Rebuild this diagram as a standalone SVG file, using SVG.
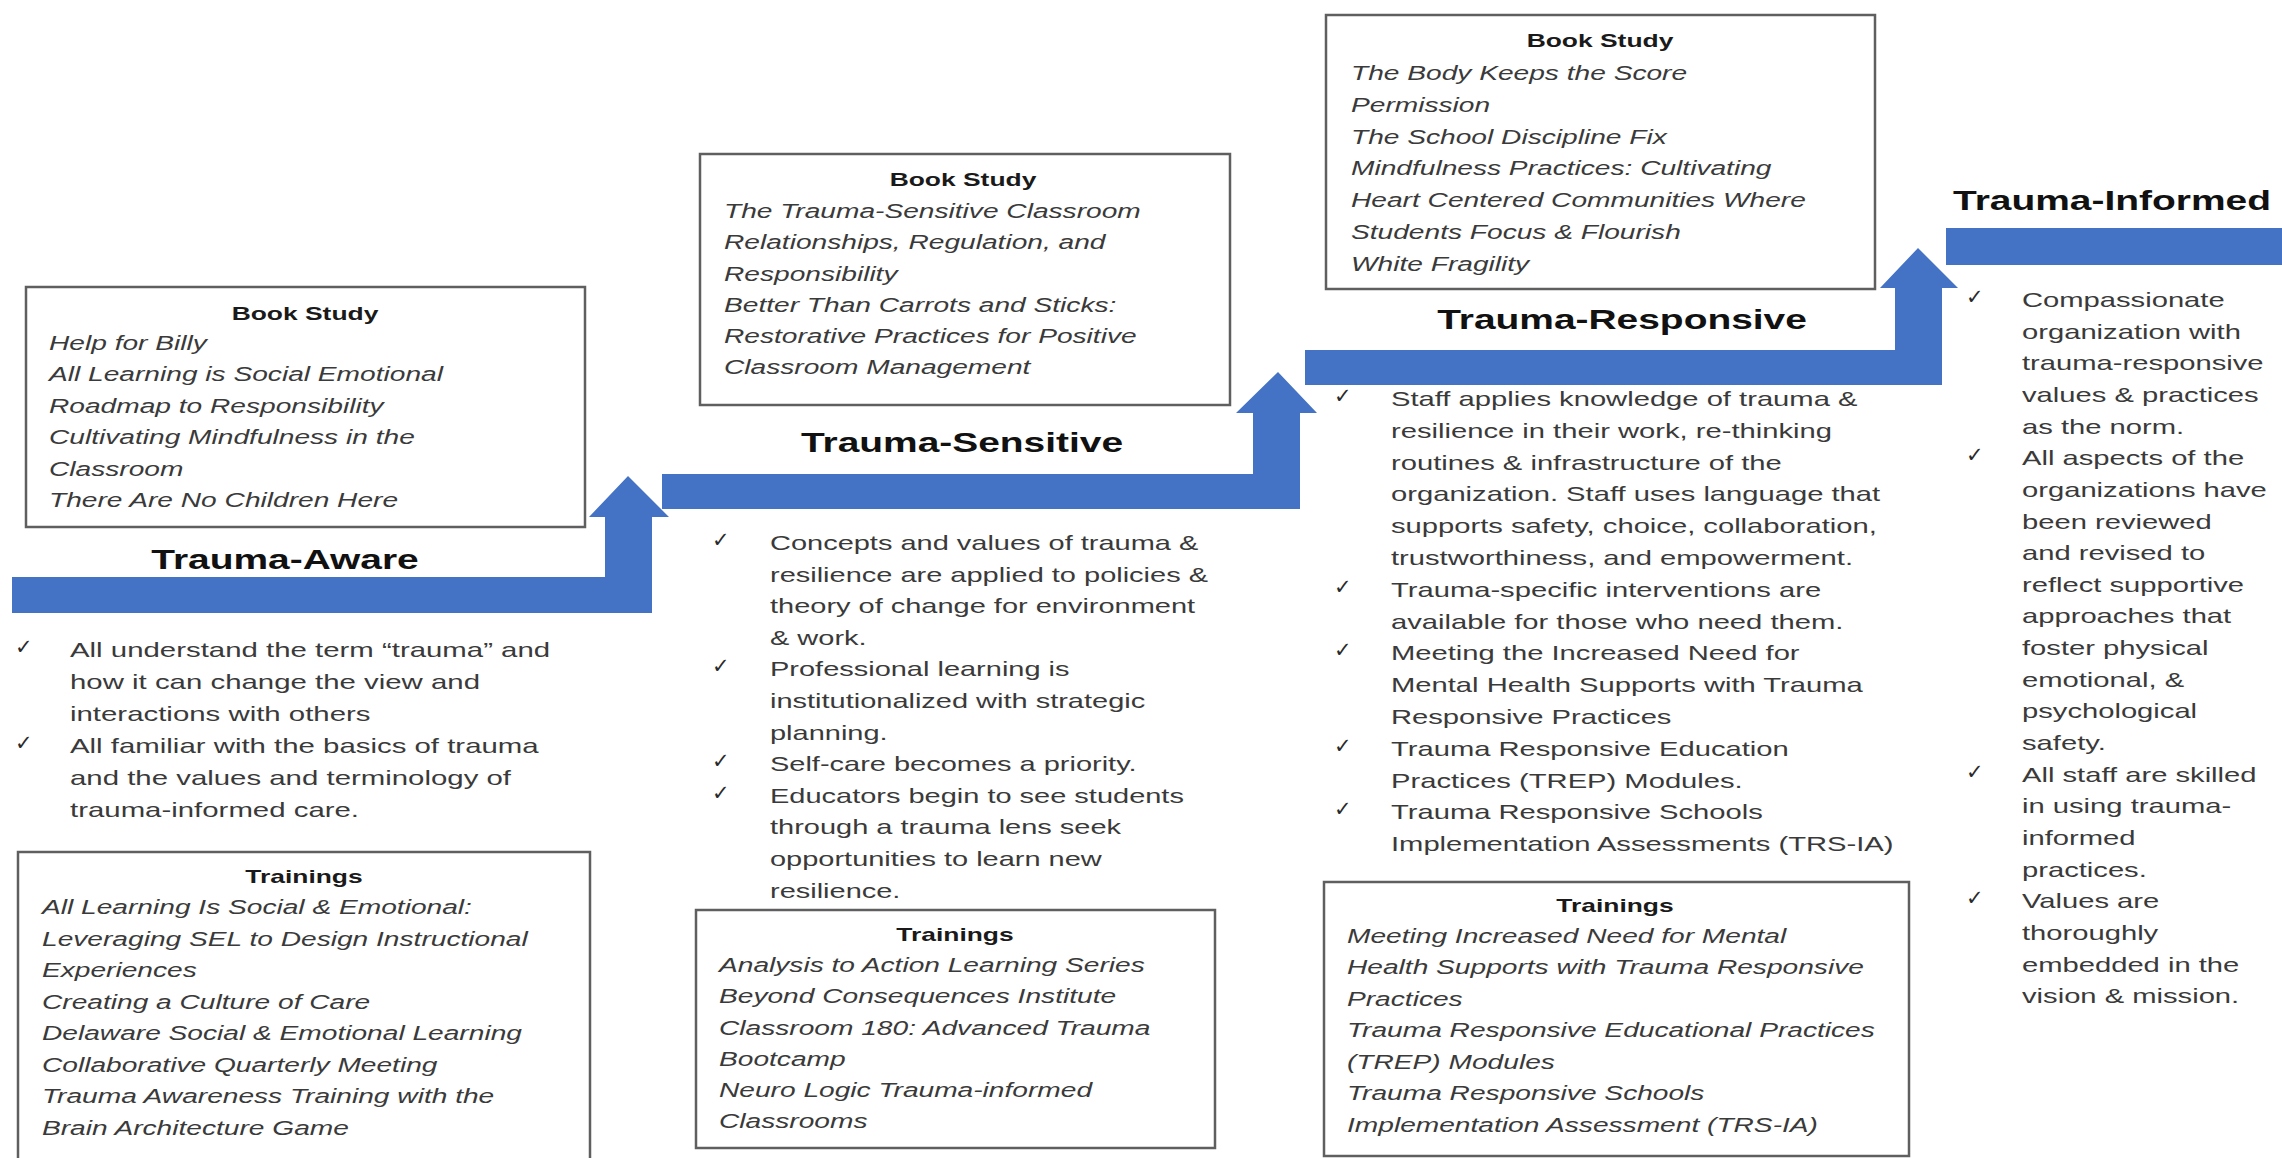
<svg xmlns="http://www.w3.org/2000/svg" width="2282" height="1158" viewBox="0 0 2282 1158">
<style>
.bg{fill:#ffffff}
.box{fill:#ffffff;stroke:#5f5f5f;stroke-width:2.5}
.arrow{fill:#4472C4}
.t{font-family:"Liberation Sans",Arial,sans-serif;font-size:21px;fill:#3a3a3a}
.it{font-style:italic}
.hdr{font-family:"Liberation Sans",Arial,sans-serif;font-weight:bold;font-size:19px;fill:#1a1a1a;text-anchor:middle}
.ttl{font-family:"Liberation Sans",Arial,sans-serif;font-weight:bold;font-size:28px;fill:#111111;text-anchor:middle}
.chk{font-family:"DejaVu Sans",sans-serif;font-size:21px;font-weight:bold;fill:#2a2a2a}
</style>
<rect class="bg" x="0" y="0" width="2282" height="1158"/>

<g id="connectors">
  <polygon class="arrow" points="12,577 605,577 605,517 589,517 628,476 669,517 652,517 652,613 12,613"/>
  <polygon class="arrow" points="662,474 1253,474 1253,413 1236,413 1278,372 1317,413 1300,413 1300,509 662,509"/>
  <polygon class="arrow" points="1305,350 1895,350 1895,288 1880,288 1918,248 1958,288 1942,288 1942,385 1305,385"/>
  <rect class="arrow" x="1946" y="228" width="340" height="37"/>
</g>

<!-- Trauma-Aware -->
<g id="aware-title">
  <g transform="translate(285 0) scale(1.39 1)"><text class="ttl" x="0" y="569">Trauma-Aware</text></g>
</g>
<g id="aware-books">
  <rect class="box" x="26" y="287" width="559" height="240"/>
  <g transform="translate(305 0) scale(1.39 1)"><text class="hdr" x="0" y="320">Book Study</text></g>
  <g transform="translate(49 0) scale(1.34 1)">
    <text class="t it" y="350">Help for Billy</text>
    <text class="t it" y="381.5">All Learning is Social Emotional</text>
    <text class="t it" y="413">Roadmap to Responsibility</text>
    <text class="t it" y="444.5">Cultivating Mindfulness in the</text>
    <text class="t it" y="476">Classroom</text>
    <text class="t it" y="507.5">There Are No Children Here</text>
  </g>
</g>
<g id="aware-bullets">
  <text class="chk" x="15" y="654">✓</text>
  <text class="chk" x="15" y="750">✓</text>
  <g transform="translate(70 0) scale(1.40 1)">
    <text class="t" y="657">All understand the term “trauma” and</text>
    <text class="t" y="689">how it can change the view and</text>
    <text class="t" y="721">interactions with others</text>
    <text class="t" y="753">All familiar with the basics of trauma</text>
    <text class="t" y="785">and the values and terminology of</text>
    <text class="t" y="817">trauma-informed care.</text>
  </g>
</g>
<g id="aware-trainings">
  <rect class="box" x="18" y="852" width="572" height="320"/>
  <g transform="translate(304 0) scale(1.39 1)"><text class="hdr" x="0" y="883">Trainings</text></g>
  <g transform="translate(42 0) scale(1.34 1)">
    <text class="t it" y="914.5">All Learning Is Social &amp; Emotional:</text>
    <text class="t it" y="946">Leveraging SEL to Design Instructional</text>
    <text class="t it" y="977.5">Experiences</text>
    <text class="t it" y="1009">Creating a Culture of Care</text>
    <text class="t it" y="1040.5">Delaware Social &amp; Emotional Learning</text>
    <text class="t it" y="1072">Collaborative Quarterly Meeting</text>
    <text class="t it" y="1103.5">Trauma Awareness Training with the</text>
    <text class="t it" y="1135">Brain Architecture Game</text>
  </g>
</g>

<!-- Trauma-Sensitive -->
<g id="sensitive-title">
  <g transform="translate(962 0) scale(1.39 1)"><text class="ttl" x="0" y="452">Trauma-Sensitive</text></g>
</g>
<g id="sensitive-books">
  <rect class="box" x="700" y="154" width="530" height="251"/>
  <g transform="translate(963 0) scale(1.39 1)"><text class="hdr" x="0" y="186">Book Study</text></g>
  <g transform="translate(724 0) scale(1.34 1)">
    <text class="t it" y="218">The Trauma-Sensitive Classroom</text>
    <text class="t it" y="249.3">Relationships, Regulation, and</text>
    <text class="t it" y="280.6">Responsibility</text>
    <text class="t it" y="311.9">Better Than Carrots and Sticks:</text>
    <text class="t it" y="343.2">Restorative Practices for Positive</text>
    <text class="t it" y="374.5">Classroom Management</text>
  </g>
</g>
<g id="sensitive-bullets">
  <text class="chk" x="712" y="547">✓</text>
  <text class="chk" x="712" y="673">✓</text>
  <text class="chk" x="712" y="768">✓</text>
  <text class="chk" x="712" y="800">✓</text>
  <g transform="translate(770 0) scale(1.38 1)">
    <text class="t" y="550">Concepts and values of trauma &amp;</text>
    <text class="t" y="581.6">resilience are applied to policies &amp;</text>
    <text class="t" y="613.2">theory of change for environment</text>
    <text class="t" y="644.8">&amp; work.</text>
    <text class="t" y="676.4">Professional learning is</text>
    <text class="t" y="708">institutionalized with strategic</text>
    <text class="t" y="739.6">planning.</text>
    <text class="t" y="771.2">Self-care becomes a priority.</text>
    <text class="t" y="802.8">Educators begin to see students</text>
    <text class="t" y="834.4">through a trauma lens seek</text>
    <text class="t" y="866">opportunities to learn new</text>
    <text class="t" y="897.6">resilience.</text>
  </g>
</g>
<g id="sensitive-trainings">
  <rect class="box" x="696" y="910" width="519" height="238"/>
  <g transform="translate(955 0) scale(1.39 1)"><text class="hdr" x="0" y="941">Trainings</text></g>
  <g transform="translate(719 0) scale(1.34 1)">
    <text class="t it" y="972">Analysis to Action Learning Series</text>
    <text class="t it" y="1003.3">Beyond Consequences Institute</text>
    <text class="t it" y="1034.6">Classroom 180: Advanced Trauma</text>
    <text class="t it" y="1065.9">Bootcamp</text>
    <text class="t it" y="1097.2">Neuro Logic Trauma-informed</text>
    <text class="t it" y="1128.5">Classrooms</text>
  </g>
</g>

<!-- Trauma-Responsive -->
<g id="responsive-title">
  <g transform="translate(1622 0) scale(1.39 1)"><text class="ttl" x="0" y="329">Trauma-Responsive</text></g>
</g>
<g id="responsive-books">
  <rect class="box" x="1326" y="15" width="549" height="274"/>
  <g transform="translate(1600 0) scale(1.39 1)"><text class="hdr" x="0" y="47">Book Study</text></g>
  <g transform="translate(1351 0) scale(1.34 1)">
    <text class="t it" y="80">The Body Keeps the Score</text>
    <text class="t it" y="111.8">Permission</text>
    <text class="t it" y="143.6">The School Discipline Fix</text>
    <text class="t it" y="175.4">Mindfulness Practices: Cultivating</text>
    <text class="t it" y="207.2">Heart Centered Communities Where</text>
    <text class="t it" y="239">Students Focus &amp; Flourish</text>
    <text class="t it" y="270.8">White Fragility</text>
  </g>
</g>
<g id="responsive-bullets">
  <text class="chk" x="1334" y="403">✓</text>
  <text class="chk" x="1334" y="594">✓</text>
  <text class="chk" x="1334" y="657">✓</text>
  <text class="chk" x="1334" y="753">✓</text>
  <text class="chk" x="1334" y="816">✓</text>
  <g transform="translate(1391 0) scale(1.39 1)">
    <text class="t" y="406">Staff applies knowledge of trauma &amp;</text>
    <text class="t" y="437.8">resilience in their work, re-thinking</text>
    <text class="t" y="469.6">routines &amp; infrastructure of the</text>
    <text class="t" y="501.4">organization. Staff uses language that</text>
    <text class="t" y="533.2">supports safety, choice, collaboration,</text>
    <text class="t" y="565">trustworthiness, and empowerment.</text>
    <text class="t" y="596.8">Trauma-specific interventions are</text>
    <text class="t" y="628.6">available for those who need them.</text>
    <text class="t" y="660.4">Meeting the Increased Need for</text>
    <text class="t" y="692.2">Mental Health Supports with Trauma</text>
    <text class="t" y="724">Responsive Practices</text>
    <text class="t" y="755.8">Trauma Responsive Education</text>
    <text class="t" y="787.6">Practices (TREP) Modules.</text>
    <text class="t" y="819.4">Trauma Responsive Schools</text>
    <text class="t" y="851.2">Implementation Assessments (TRS-IA)</text>
  </g>
</g>
<g id="responsive-trainings">
  <rect class="box" x="1324" y="882" width="585" height="274"/>
  <g transform="translate(1615 0) scale(1.39 1)"><text class="hdr" x="0" y="912">Trainings</text></g>
  <g transform="translate(1347 0) scale(1.34 1)">
    <text class="t it" y="943">Meeting Increased Need for Mental</text>
    <text class="t it" y="974.5">Health Supports with Trauma Responsive</text>
    <text class="t it" y="1006">Practices</text>
    <text class="t it" y="1037.5">Trauma Responsive Educational Practices</text>
    <text class="t it" y="1069">(TREP) Modules</text>
    <text class="t it" y="1100.5">Trauma Responsive Schools</text>
    <text class="t it" y="1132">Implementation Assessment (TRS-IA)</text>
  </g>
</g>

<!-- Trauma-Informed -->
<g id="informed-title">
  <g transform="translate(2112 0) scale(1.39 1)"><text class="ttl" x="0" y="210">Trauma-Informed</text></g>
</g>
<g id="informed-bullets">
  <text class="chk" x="1966" y="304">✓</text>
  <text class="chk" x="1966" y="462">✓</text>
  <text class="chk" x="1966" y="779">✓</text>
  <text class="chk" x="1966" y="905">✓</text>
  <g transform="translate(2022 0) scale(1.39 1)">
    <text class="t" y="307">Compassionate</text>
    <text class="t" y="338.65">organization with</text>
    <text class="t" y="370.3">trauma-responsive</text>
    <text class="t" y="401.95">values &amp; practices</text>
    <text class="t" y="433.6">as the norm.</text>
    <text class="t" y="465.25">All aspects of the</text>
    <text class="t" y="496.9">organizations have</text>
    <text class="t" y="528.55">been reviewed</text>
    <text class="t" y="560.2">and revised to</text>
    <text class="t" y="591.85">reflect supportive</text>
    <text class="t" y="623.5">approaches that</text>
    <text class="t" y="655.15">foster physical</text>
    <text class="t" y="686.8">emotional, &amp;</text>
    <text class="t" y="718.45">psychological</text>
    <text class="t" y="750.1">safety.</text>
    <text class="t" y="781.75">All staff are skilled</text>
    <text class="t" y="813.4">in using trauma-</text>
    <text class="t" y="845.05">informed</text>
    <text class="t" y="876.7">practices.</text>
    <text class="t" y="908.35">Values are</text>
    <text class="t" y="940">thoroughly</text>
    <text class="t" y="971.65">embedded in the</text>
    <text class="t" y="1003.3">vision &amp; mission.</text>
  </g>
</g>
</svg>
